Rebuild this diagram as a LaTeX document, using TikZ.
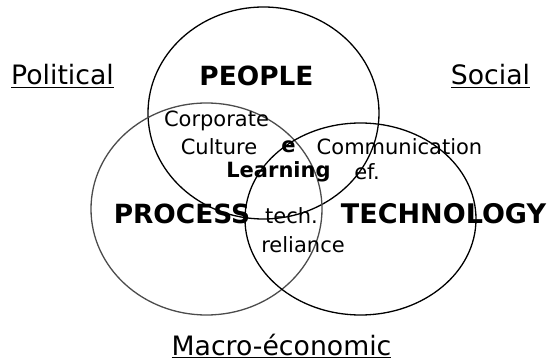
\documentclass[tikz,border=0pt]{standalone}
\usepackage{fontspec}
\setmainfont{DejaVu Sans}
\begin{document}
\begin{tikzpicture}[x=1pt,y=-1pt,
 bigtext/.style={font=\fontsize{26.4}{30}\selectfont\bfseries,inner sep=0pt},
 midtext/.style={font=\fontsize{21}{24}\selectfont,inner sep=0pt},
 boldmid/.style={font=\fontsize{21}{24}\selectfont\bfseries,inner sep=0pt},
 outertext/.style={font=\fontsize{26.7}{30}\selectfont,inner sep=0pt}]
\useasboundingbox (0,0) rectangle (547,363);
\draw[black,line width=1.3pt] (263.5,113) ellipse (115.5 and 106);
\draw[black!70,line width=1.3pt] (206.5,209) ellipse (115.5 and 106);
\draw[black,line width=1.3pt] (360.5,219) ellipse (115.5 and 96);
\node[outertext] (pol) at (62.5,76) {\underline{Political}};
\node[outertext] (soc) at (490.5,76) {\underline{Social}};
\node[outertext] (mac) at (281.5,346) {\underline{Macro-économic}};
\node[bigtext] (peo) at (256.5,75.5) {PEOPLE};
\node[bigtext] (pro) at (182,214) {PROCESS};
\node[bigtext,font=\fontsize{27}{30}\selectfont\bfseries] (tec) at (443.5,214) {TECHNOLOGY};
\node[midtext] (c1) at (216.5,121) {Corporate};
\node[midtext] (c2) at (219,147) {Culture};
\node[boldmid] (e) at (288.5,147) {e};
\node[midtext] (com) at (399.5,147) {Communication};
\node[boldmid] (lea) at (278.5,172) {Learning};
\node[midtext] (ef) at (367,172) {ef.};
\node[midtext] (te) at (291.5,216) {tech.};
\node[midtext] (rel) at (303,244.5) {reliance};
\end{tikzpicture}
\end{document}
